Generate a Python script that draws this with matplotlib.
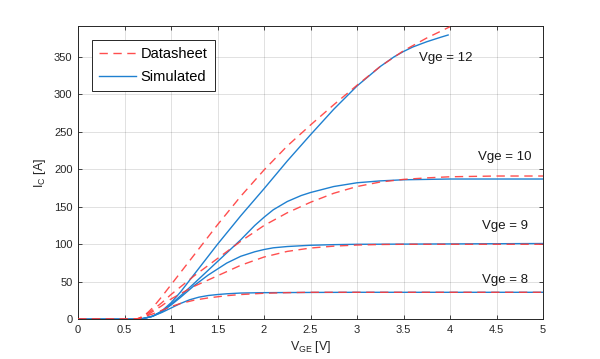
import matplotlib
matplotlib.use("Agg")
import matplotlib.pyplot as plt

plt.rcParams['font.family'] = ['Liberation Sans', 'DejaVu Sans']

# ---- Data ----
ds12_x = [0, 0.6, 0.65, 0.7, 0.75, 0.8, 0.9, 1.0, 1.1, 1.25, 1.5, 1.75, 2.0, 2.25, 2.5, 2.75, 3.0, 3.25, 3.5, 3.75, 4.0]
ds12_y = [0, 0, 1, 4, 9, 15, 30, 46, 62, 86, 126, 164, 199, 231, 259, 286, 312, 337, 358, 375, 390]

sim12_x = [0, 0.6, 0.7, 0.8, 0.9, 1.0, 1.1, 1.25, 1.5, 1.75, 2.0, 2.25, 2.5, 2.75, 3.0, 3.25, 3.4, 3.5, 3.6, 3.75, 3.9, 3.98]
sim12_y = [0, 0, 1, 4, 11, 22, 36, 60, 100, 138, 174, 211, 246, 280, 311, 337, 350, 357, 363, 370, 376, 379]

ds10_x = [0, 0.6, 0.65, 0.7, 0.75, 0.8, 0.9, 1.0, 1.1, 1.25, 1.5, 1.75, 2.0, 2.25, 2.5, 2.75, 3.0, 3.25, 3.5, 3.75, 4.0, 4.5, 5.0]
ds10_y = [0, 0, 1, 4, 8, 12, 22, 33, 43, 58, 81, 104, 125, 142, 156, 168, 177, 183, 186.5, 188.5, 190, 191, 191]

sim10_x = [0, 0.6, 0.7, 0.8, 0.9, 1.0, 1.1, 1.25, 1.5, 1.75, 1.9, 2.0, 2.1, 2.25, 2.4, 2.5, 2.75, 3.0, 3.25, 3.5, 4.0, 5.0]
sim10_y = [0, 0, 1, 4, 10, 20, 31, 48, 77, 106, 125, 136, 146, 157, 165, 169, 177, 182, 184.5, 186, 187, 187]

ds9_x = [0, 0.6, 0.65, 0.7, 0.75, 0.8, 0.9, 1.0, 1.1, 1.25, 1.5, 1.75, 2.0, 2.25, 2.5, 2.75, 3.0, 3.25, 3.5, 5.0]
ds9_y = [0, 0, 1, 3, 6, 10, 18, 27, 34, 44, 58, 72, 83, 90.5, 95, 97.5, 99, 99.7, 100, 100]

sim9_x = [0, 0.6, 0.7, 0.8, 0.9, 1.0, 1.1, 1.25, 1.4, 1.5, 1.6, 1.75, 1.9, 2.0, 2.1, 2.25, 2.5, 2.75, 3.0, 4.0, 5.0]
sim9_y = [0, 0, 1, 4, 10, 19, 29, 45, 59, 67, 75, 84, 90, 93, 95.3, 97, 98.7, 99.5, 100, 100.5, 101]

ds8_x = [0, 0.6, 0.65, 0.7, 0.75, 0.8, 0.9, 1.0, 1.1, 1.25, 1.4, 1.5, 1.6, 1.75, 2.0, 2.25, 2.5, 5.0]
ds8_y = [0, 0, 1, 3, 5, 7, 12, 17, 21, 25.5, 28.5, 30, 31.5, 33, 34.7, 35.5, 36, 36]

sim8_x = [0, 0.6, 0.7, 0.8, 0.9, 1.0, 1.1, 1.2, 1.3, 1.4, 1.5, 1.6, 1.75, 2.0, 2.5, 3.0, 5.0]
sim8_y = [0, 0, 1, 4, 9, 15, 21, 26, 29.5, 31.7, 33, 34, 35, 35.5, 35.8, 36, 36]

labels = ["Vge = 12", "Vge = 10", "Vge = 9", "Vge = 8"]
label_x = [3.95, 4.59, 4.59, 4.59]
label_y = [348, 216, 124, 52]

xticks = [0, 0.5, 1, 1.5, 2, 2.5, 3, 3.5, 4, 4.5, 5]
xticklabels = ["0", "0.5", "1", "1.5", "2", "2.5", "3", "3.5", "4", "4.5", "5"]
yticks = [0, 50, 100, 150, 200, 250, 300, 350]

# ---- Plot ----
fig = plt.figure(figsize=(6.0, 3.59), dpi=100)
ax = fig.add_axes([0.13, 0.1106, 0.775, 0.817])

red = '#ff3b3b'
blue = '#1f80d0'
sims = [(sim12_x, sim12_y), (sim10_x, sim10_y), (sim9_x, sim9_y), (sim8_x, sim8_y)]
dss = [(ds12_x, ds12_y), (ds10_x, ds10_y), (ds9_x, ds9_y), (ds8_x, ds8_y)]

for i, (x, y) in enumerate(sims):
    ax.plot(x, y, color=blue, lw=1.0, label='Simulated' if i == 0 else None,
            zorder=2, solid_joinstyle='round')
for i, (x, y) in enumerate(dss):
    ax.plot(x, y, color=red, lw=1.0, ls=(0, (6, 4)), alpha=0.9,
            label='Datasheet' if i == 0 else None, zorder=3)

for t, lx, ly in zip(labels, label_x, label_y):
    ax.text(lx, ly, t, ha='center', va='center', fontsize=9.5, color='#1a1a1a')

ax.set_xlim(0, 5)
ax.set_ylim(0, 391)
ax.set_xticks(xticks)
ax.set_xticklabels(xticklabels)
ax.set_yticks(yticks)
ax.grid(True, color='#000000', alpha=0.12, lw=0.7)
ax.tick_params(direction='in', top=True, right=True, length=3, width=0.6,
               labelsize=8, colors='#262626', pad=4)
for s in ax.spines.values():
    s.set_color('#262626')
    s.set_linewidth(0.7)

ax.set_xlabel(r'V$_{\mathregular{GE}}$ [V]', fontsize=9, color='#262626', labelpad=3)
ax.set_ylabel(r'I$_{\mathregular{C}}$ [A]', fontsize=9, color='#262626', labelpad=4)

handles, lbls = ax.get_legend_handles_labels()
order = [lbls.index('Datasheet'), lbls.index('Simulated')]
leg = ax.legend([handles[k] for k in order], [lbls[k] for k in order],
                loc='upper left', bbox_to_anchor=(0.030, 0.952), borderaxespad=0,
                fontsize=10.5, frameon=True, fancybox=False, framealpha=1,
                edgecolor='#262626', borderpad=0.5, handlelength=2.5,
                handletextpad=0.35, labelspacing=0.6)
leg.get_frame().set_linewidth(0.7)

fig.savefig('out.png', dpi=100)
